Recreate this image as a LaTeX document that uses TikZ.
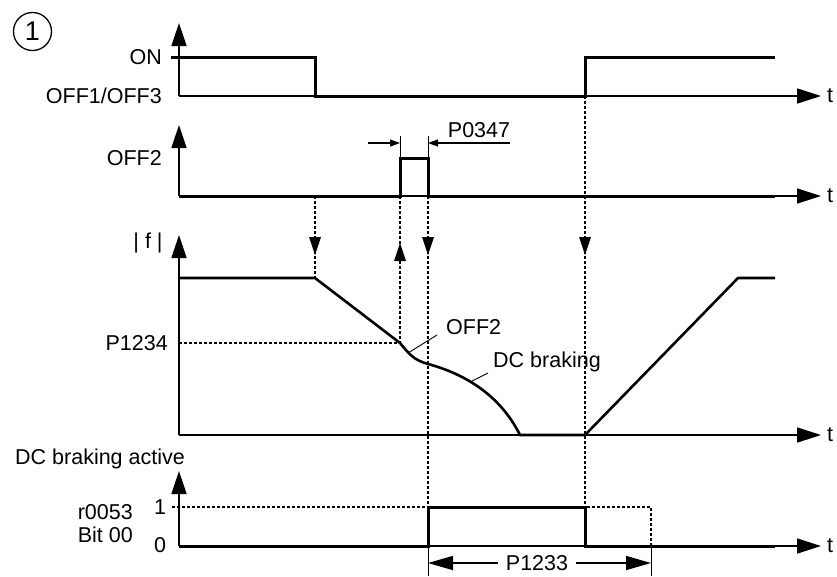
\documentclass[tikz,border=0pt]{standalone}
\usepackage{fontspec}
\setmainfont{Liberation Sans}
\usetikzlibrary{arrows.meta}
\begin{document}
\begin{tikzpicture}[x=1pt,y=-1pt, font=\fontsize{21.5}{24}\selectfont,
  thinline/.style={line width=1.5pt},
  sig/.style={line width=3pt, line join=miter},
  fcurve/.style={line width=2.6pt, line join=round},
  dsh/.style={line width=1.5pt, dash pattern=on 3pt off 2pt},
  axis/.style={line width=1.6pt, -{Triangle[length=23pt,width=15pt]}},
  taxis/.style={line width=1.6pt, -{Triangle[length=24pt,width=15pt]}},
  dimarr/.style={line width=1.2pt, -{Triangle[length=10pt,width=7pt]}},
  bigdim/.style={line width=1.5pt, -{Triangle[length=25pt,width=14pt]}},
  lbl/.style={inner sep=0pt, anchor=east},
  lblw/.style={inner sep=0pt, anchor=west},
  midtip/.style={fill=black},
  leader/.style={line width=0.9pt}
]
\path (0,0) rectangle (837,575);

% circled number
\node[draw, circle, line width=1.3pt, minimum size=38pt, inner sep=0pt,
      font=\fontsize{27}{28}\selectfont] (num) at (32.5,31.5) {1};

% ---------- panel 1 ----------
\draw[axis] (179,96) -- (179,23);
\draw[taxis] (179,96) -- (821,96);
\node[lbl] (on) at (162,57) {ON};
\node[lbl] (off13) at (162,96) {OFF1/OFF3};
\node[lblw] (t1) at (827,96) {t};
\draw[sig] (171,57) -- (315,57) -- (315,96) -- (585,96) -- (585,57) -- (775,57);

% ---------- panel 2 ----------
\draw[axis] (179,196) -- (179,125);
\draw[taxis] (179,196) -- (821,196);
\node[lbl] (off2) at (162,158) {OFF2};
\node[lblw] (t2) at (827,196) {t};
\draw[sig] (179,196) -- (400,196) -- (400,158) -- (428,158) -- (428,196) -- (775,196);
\draw[leader] (400,136) -- (400,158);
\draw[leader] (428,136) -- (428,158);
\coordinate (pl) at (400,143);
\coordinate (pr) at (428,143);
\draw[dimarr] (368,143) -- (pl);
\draw[dimarr] (510,143) -- (pr);
\node (p0347) at (479,130) {P0347};

% ---------- panel 3 ----------
\draw[axis] (179,435) -- (179,235);
\draw[taxis] (179,435) -- (821,435);
\node (f) at (148,243) {| f |};
\node[lblw] (t3) at (827,435) {t};
\draw[dsh] (179,343) -- (400,343);
\node[lbl] (p1234) at (168,343) {P1234};
\draw[fcurve] (179,278) -- (315,278) -- (400,343)
  .. controls (410,355) and (414,360) .. (428,364)
  .. controls (465,374) and (500,395) .. (520,435)
  -- (585,435) -- (738,278) -- (775,278);
\draw[leader] (408,353) -- (437,335);
\node[lblw] (off2b) at (446,327) {OFF2};
\draw[leader] (470,382) -- (488,373);
\node[lblw] (dcb) at (493,362) {DC braking};

% ---------- panel 4 ----------
\node[lblw] (dca) at (15,459) {DC braking active};
\draw[axis] (179,546) -- (179,471);
\draw[taxis] (179,546) -- (821,546);
\node[lblw] (t4) at (827,546) {t};
\draw[dsh] (172,507) -- (651,507) -- (651,546);
\draw[sig] (179,546) -- (428,546) -- (428,507) -- (585,507) -- (585,546) -- (775,546);
\node (one) at (160,507) {1};
\node (zero) at (160,545) {0};
\node[lbl] (r53) at (133,512) {r0053};
\node[lbl] (bit) at (133,535) {Bit 00};
\draw[leader] (428,546) -- (428,576);
\draw[leader] (651,546) -- (651,576);
\node (p1233) at (537,563) {P1233};
\draw[bigdim] (p1233.west) ++(-4,0) -- (428,563);
\draw[bigdim] (p1233.east) ++(4,0) -- (651,563);

% ---------- dashed event lines ----------
\draw[dsh] (315,196) -- (315,278);
\fill[midtip] (309,237) -- (321,237) -- (315,255) -- cycle;
\draw[dsh] (400,196) -- (400,343);
\fill[midtip] (394,261) -- (406,261) -- (400,243) -- cycle;
\draw[dsh] (428,196) -- (428,507);
\fill[midtip] (422,237) -- (434,237) -- (428,255) -- cycle;
\draw[dsh] (585,96) -- (585,507);
\fill[midtip] (579,237) -- (591,237) -- (585,255) -- cycle;
\end{tikzpicture}
\end{document}
